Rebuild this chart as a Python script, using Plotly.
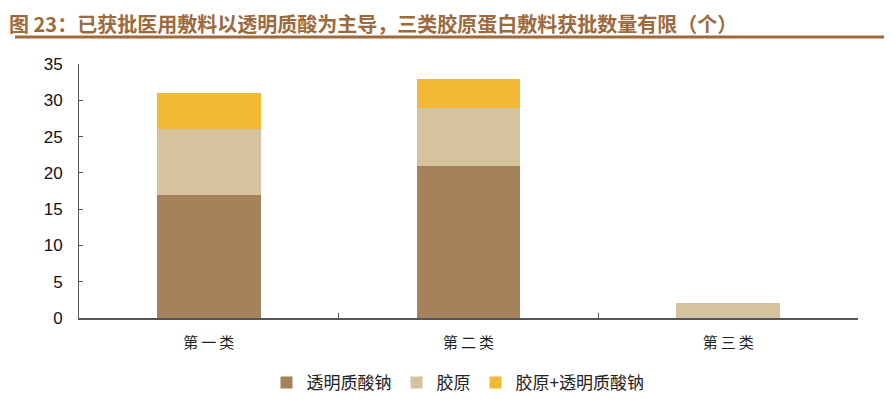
import plotly.graph_objects as go

categories = ["第一类", "第二类", "第三类"]
hyaluronate = [17, 21, 0]
collagen = [9, 8, 2]
collagen_hyaluronate = [5, 4, 0]
series_names = ["透明质酸钠", "胶原", "胶原+透明质酸钠"]
colors = ["#A6825B", "#D4C39C", "#F3B835"]
y_ticks = [0, 5, 10, 15, 20, 25, 30, 35]

title_text = "图 23：已获批医用敷料以透明质酸为主导，三类胶原蛋白敷料获批数量有限（个）"

W, H = 892, 399
OFF = 8  # page body margin offset
L, R, T, B = 79 - OFF, 34 + OFF, 64 - OFF, 81 + OFF
PW, PH = W - L - R, H - T - B

fig = go.Figure()
for name, vals, c in zip(series_names, [hyaluronate, collagen, collagen_hyaluronate], colors):
    fig.add_trace(go.Bar(x=categories, y=vals, name=name, marker=dict(color=c, line=dict(width=0)),
                         width=0.4))

fig.update_layout(
    barmode="stack",
    width=W, height=H,
    margin=dict(l=L, r=R, t=T, b=B, autoexpand=False),
    paper_bgcolor="white", plot_bgcolor="white",
    font=dict(family="Noto Sans CJK SC", color="#000000"),
    showlegend=True,
    legend=dict(orientation="h", x=(458 - OFF) / W, xanchor="center", xref="container",
                y=1 - (383 - OFF) / H, yanchor="middle", yref="container",
                font=dict(size=17, family="Noto Sans CJK SC", color="#222222"),
                traceorder="normal", itemwidth=30),
    xaxis=dict(type="category", showline=True, linecolor="#555555", linewidth=1.5,
               ticks="inside", tickson="boundaries", ticklen=5, tickcolor="#555555",
               tickmode="array", tickvals=categories,
               ticktext=["\u2009".join(c) for c in categories],
               tickfont=dict(size=15, family="Noto Sans CJK SC", color="#222222"),
               showgrid=False, automargin=False, ticklabelstandoff=10),
    yaxis=dict(range=[0, 35], tickvals=y_ticks, showline=True, linecolor="#555555", linewidth=1,
               ticks="inside", ticklen=4, tickcolor="#555555", showgrid=False, zeroline=False,
               tickfont=dict(size=17, family="Arial, Liberation Sans", color="#111111"),
               ticklabelstandoff=12, automargin=False),
)

fig.add_annotation(text="<b>" + title_text + "</b>", xref="paper", yref="paper",
                   x=-L / PW, y=1 - 0 / PH + (T) / PH, xanchor="left", yanchor="top",
                   showarrow=False, borderpad=0,
                   font=dict(size=20, family="Noto Sans CJK SC", color="#9C6A3C"))
fig.add_shape(type="line", xref="paper", yref="paper",
              x0=-(L - (15 - OFF)) / PW, x1=1 + R / PW,
              y0=1 + (T - (37 - OFF)) / PH, y1=1 + (T - (37 - OFF)) / PH,
              line=dict(color="#A0693A", width=3))

fig.write_html("out.html")
